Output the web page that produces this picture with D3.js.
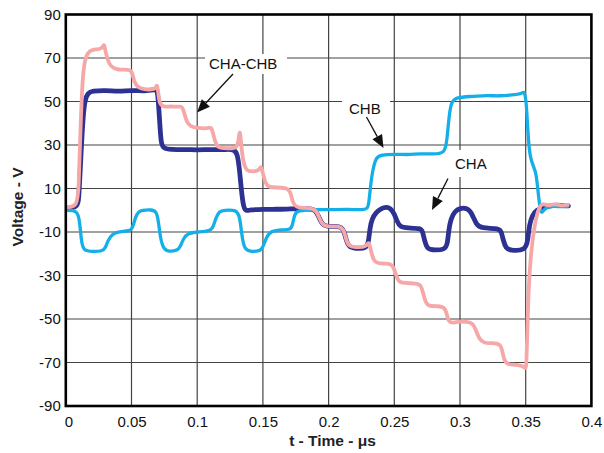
<!DOCTYPE html>
<html><head><meta charset="utf-8">
<script src="https://cdn.jsdelivr.net/npm/d3@7"></script>
<style>body{margin:0;background:#fff}svg{display:block}text{font-family:"Liberation Sans",Arial,sans-serif}</style>
</head><body>
<script>
// Data (t in microseconds, voltage in V)
const xTicks = [0,0.05,0.1,0.15,0.2,0.25,0.3,0.35,0.4];
const xTickLabels = ["0","0.05","0.1","0.15","0.2","0.25","0.3","0.35","0.4"];
const yTicks = [-90,-70,-50,-30,-10,10,30,50,70,90];
const yTickLabels = ["-90","-70","-50","-30","-10","10","30","50","70","90"];

const chaT = [0,0.009,0.0100,0.0115,0.013,0.0145,0.017,0.02,0.03,0.04,0.05,0.06,0.0675,0.0695,0.0705,0.0715,0.0725,0.074,0.08,0.09,0.1,0.11,0.12,0.128,0.1305,0.132,0.1335,0.135,0.137,0.14,0.15,0.16,0.17,0.185,0.19,0.1925,0.195,0.1985,0.205,0.21,0.212,0.2135,0.2155,0.22,0.229,0.2305,0.2315,0.233,0.236,0.24,0.244,0.247,0.25,0.252,0.2545,0.26,0.27,0.2715,0.273,0.275,0.278,0.289,0.2905,0.2915,0.293,0.296,0.30,0.305,0.308,0.31,0.3125,0.316,0.33,0.3315,0.333,0.335,0.338,0.35,0.3515,0.353,0.355,0.358,0.365,0.372,0.377,0.3825];
const chaV = [1,1,6,25,42,51,54,54.8,55.2,54.6,55.2,54.8,55.3,55.8,50,40,31,28.5,27.8,28,27.7,28,27.8,28.2,26,20,10,2,-0.5,0.2,0.5,0.4,0.6,0.8,0.3,-3,-6.5,-7.5,-7.3,-7.8,-10,-14,-17,-17.5,-17.8,-14,-8,-4,-1,0.8,1.5,1,-1.5,-5,-7.8,-8.2,-8.3,-9.5,-14,-17.5,-18.3,-18.3,-15,-9,-4,-0.5,1,1,-0.5,-3,-6.5,-8.3,-8.3,-10,-14,-17.5,-18.5,-18.5,-14,-6,-2.5,0.3,1.5,2.5,2.2,2];

const chbT = [0,0.009,0.0105,0.012,0.0135,0.02,0.028,0.03,0.032,0.035,0.04,0.045,0.049,0.051,0.053,0.0555,0.058,0.065,0.069,0.0705,0.072,0.0745,0.078,0.085,0.087,0.0895,0.093,0.1,0.11,0.112,0.1145,0.117,0.12,0.13,0.1325,0.134,0.136,0.14,0.148,0.15,0.153,0.156,0.165,0.171,0.1725,0.174,0.176,0.19,0.2,0.215,0.229,0.2305,0.232,0.234,0.2365,0.24,0.25,0.26,0.27,0.28,0.2885,0.29,0.2915,0.293,0.296,0.31,0.32,0.33,0.34,0.347,0.349,0.3505,0.352,0.3535,0.356,0.358,0.3595,0.361,0.3625,0.364,0.367,0.372,0.377,0.382];
const chbV = [0,0,-5,-15,-18.5,-19,-18.8,-17.5,-14,-11,-10,-9.5,-9.5,-8,-3,-0.5,0,0.3,-0.5,-5,-13,-18,-19,-18.5,-17,-13,-10.5,-10,-9.5,-8,-3,-0.5,0,0.3,-3,-12,-18,-19,-18.8,-17,-12,-9.5,-9,-9,-7,-2,0,0.3,0.2,0.5,0,2,12,20,24.5,25.5,25.8,25.5,26,25.8,26.2,32,42,49,52,52.3,52.8,52.5,53,53.5,55,50,32,24,20,17,8,0,-1.5,0.5,1.5,2,1.5,1.8];

const diffT = [0,0.0088,0.0098,0.011,0.0125,0.014,0.0165,0.02,0.027,0.0285,0.0292,0.0305,0.033,0.036,0.04,0.045,0.049,0.0505,0.052,0.0545,0.06,0.065,0.0685,0.0695,0.0705,0.0715,0.074,0.08,0.085,0.0885,0.09,0.092,0.095,0.1,0.108,0.111,0.1125,0.1145,0.117,0.125,0.13,0.1315,0.1325,0.1335,0.135,0.1375,0.142,0.147,0.1485,0.15,0.152,0.155,0.16,0.17,0.1715,0.173,0.1755,0.18,0.19,0.1925,0.195,0.1985,0.205,0.21,0.212,0.2135,0.2155,0.22,0.229,0.2305,0.232,0.234,0.237,0.245,0.2485,0.2505,0.2525,0.255,0.265,0.27,0.2715,0.2735,0.276,0.283,0.2885,0.29,0.2915,0.295,0.3,0.305,0.31,0.312,0.3145,0.318,0.325,0.3305,0.332,0.3335,0.336,0.343,0.3475,0.3495,0.3505,0.351,0.352,0.353,0.3545,0.3565,0.3585,0.361,0.364,0.367,0.372,0.377,0.382];
const diffV = [1.5,1.5,10,35,58,68,72.5,74,74,75.5,76.5,72,67,65.5,64.5,64.8,64.5,63.5,59,56.5,55.5,55.5,55.8,58.5,53,49,47.5,47.8,47.5,48,45,40.5,38.5,37.8,37.5,38.5,34,30,28.5,28.5,28.5,32,38,30,22,18,17.8,18,21,17,12,10.5,10.5,10.2,7,3,1.5,1,1,-3,-6.5,-7.5,-7.3,-7.8,-10,-14,-16.5,-17,-17,-14,-18,-23,-24.5,-24.5,-25,-28,-32,-33.6,-33.5,-34,-37,-42,-44.3,-44,-44.5,-48,-51.5,-51.8,-51,-51.3,-52,-55,-59,-61.2,-61,-61.5,-64,-69,-71,-71,-71.5,-72.7,-72.5,-60,-40,-28,-17,-8,-2,2.5,3,2,3,2,2.5];

const W = 604, H = 453;
const L = 65.8, R = 591.4, T = 14.5, B = 406;

const svg = d3.select("body").append("svg").attr("width", W).attr("height", H);
const x = d3.scaleLinear().domain([0, 0.4]).range([L, R]);
const y = d3.scaleLinear().domain([-90, 90]).range([B, T]);

// grid
const g = svg.append("g");
g.selectAll("line.vx").data(xTicks.slice(1, -1)).enter().append("line")
  .attr("x1", d => x(d)).attr("x2", d => x(d)).attr("y1", T).attr("y2", B)
  .attr("stroke", "#444").attr("stroke-width", 1.2);
g.selectAll("line.hy").data(yTicks.slice(1, -1)).enter().append("line")
  .attr("y1", d => y(d)).attr("y2", d => y(d)).attr("x1", L).attr("x2", R)
  .attr("stroke", "#444").attr("stroke-width", 1.2);

// annotation label backgrounds (break grid)
const labels = [
  {text: "CHA-CHB", tx: 209, ty: 69.3, box: [205, 54, 82, 20], a: [233, 74, 197, 112.5]},
  {text: "CHB", tx: 349, ty: 114, box: [342, 98, 48, 20], a: [366.5, 117, 383.5, 148]},
  {text: "CHA", tx: 455, ty: 169.3, box: [450, 150, 44, 27], a: [448, 178.5, 432, 210]}
];
svg.selectAll("rect.lb").data(labels).enter().append("rect")
  .attr("x", d => d.box[0]).attr("y", d => d.box[1]).attr("width", d => d.box[2]).attr("height", d => d.box[3])
  .attr("fill", "#fff");

// axes
const xAxis = d3.axisBottom(x).tickValues(xTicks).tickFormat((d, i) => xTickLabels[i]).tickSize(0).tickPadding(10);
const ax = svg.append("g").attr("transform", `translate(0,${B})`).call(xAxis);
ax.select(".domain").remove();
ax.selectAll("text").attr("font-size", 15).attr("fill", "#111").attr("font-family", "Liberation Sans, Arial, sans-serif");
ax.selectAll(".tick").filter(d => d === 0).select("text").attr("dx", 2.5);

const yAxis = d3.axisLeft(y).tickValues(yTicks).tickFormat((d, i) => yTickLabels[i]).tickSize(0).tickPadding(5);
const ay = svg.append("g").attr("transform", `translate(${L},0)`).call(yAxis);
ay.select(".domain").remove();
ay.selectAll("text").attr("font-size", 15).attr("fill", "#111").attr("font-family", "Liberation Sans, Arial, sans-serif");

// series
const line = d3.line().x(d => x(d[0])).y(d => y(d[1])).curve(d3.curveBasis);
const zip = (a, b) => a.map((t, i) => [t, b[i]]);
const clipId = "plotclip";
svg.append("clipPath").attr("id", clipId).append("rect").attr("x", L).attr("y", T).attr("width", R - L).attr("height", B - T);
const series = svg.append("g").attr("clip-path", `url(#${clipId})`);
series.append("path").attr("d", line(zip(chaT, chaV))).attr("fill", "none")
  .attr("stroke", "#2c3192").attr("stroke-width", 4.8).attr("stroke-linejoin", "round").attr("stroke-linecap", "round");
series.append("path").attr("d", line(zip(chbT, chbV))).attr("fill", "none")
  .attr("stroke", "#14afe9").attr("stroke-width", 3.3).attr("stroke-linejoin", "round").attr("stroke-linecap", "round");
series.append("path").attr("d", line(zip(diffT, diffV))).attr("fill", "none")
  .attr("stroke", "#f6a7a7").attr("stroke-width", 3.8).attr("stroke-linejoin", "round").attr("stroke-linecap", "round");

// frame
svg.append("rect").attr("x", L).attr("y", T).attr("width", R - L).attr("height", B - T)
  .attr("fill", "none").attr("stroke", "#000").attr("stroke-width", 2.6);

// annotations
svg.selectAll("text.lbl").data(labels).enter().append("text")
  .attr("x", d => d.tx).attr("y", d => d.ty).attr("font-size", 15).attr("fill", "#111").text(d => d.text);
labels.forEach(d => {
  const [x1, y1, x2, y2] = d.a;
  const ang = Math.atan2(y2 - y1, x2 - x1);
  const len = 13, half = 5.5;
  const bx = x2 - len * Math.cos(ang), by = y2 - len * Math.sin(ang);
  svg.append("line").attr("x1", x1).attr("y1", y1).attr("x2", bx).attr("y2", by)
    .attr("stroke", "#111").attr("stroke-width", 1.3);
  const px = -Math.sin(ang), py = Math.cos(ang);
  svg.append("polygon").attr("points", [[x2, y2], [bx + px * half, by + py * half], [bx - px * half, by - py * half]].map(p => p.join(",")).join(" "))
    .attr("fill", "#111");
});

// axis titles
svg.append("text").attr("x", 332.5).attr("y", 446).attr("text-anchor", "middle")
  .attr("font-size", 15.5).attr("font-weight", "bold").attr("fill", "#222").text("t - Time - μs");
svg.append("text").attr("transform", "translate(23,207) rotate(-90)").attr("text-anchor", "middle")
  .attr("font-size", 15.5).attr("font-weight", "bold").attr("fill", "#222").text("Voltage - V");
</script>
</body></html>
